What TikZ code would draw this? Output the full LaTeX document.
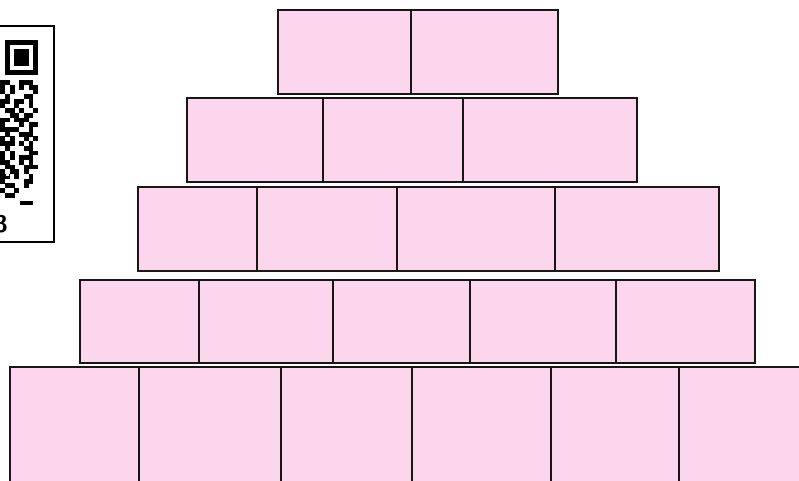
\documentclass[tikz,border=0pt]{standalone}
\usepackage{tikz}

\definecolor{brickpink}{HTML}{FBD6EC}
\definecolor{brickline}{HTML}{1A1618}

\begin{document}
\begin{tikzpicture}[
	x=1pt, y=-1pt,
	brick/.style={ draw=brickline, fill=brickpink, line width=2pt, inner sep=0pt, anchor=north west },
	qrcell/.style={ fill=black }
]
\clip (0,0) rectangle (799,480);

% row 1 (top)
\foreach \l/\r [count=\i] in {277/410, 410/557}
	\node at (\l,9) (rowa\i) [brick, minimum width={\r pt-\l pt}, minimum height=84pt] {};

% row 2
\foreach \l/\r [count=\i] in {186/322, 322/462, 462/636}
	\node at (\l,97) (rowb\i) [brick, minimum width={\r pt-\l pt}, minimum height=84pt] {};

% row 3
\foreach \l/\r [count=\i] in {137/256, 256/396, 396/554, 554/718}
	\node at (\l,186) (rowc\i) [brick, minimum width={\r pt-\l pt}, minimum height=84pt] {};

% row 4
\foreach \l/\r [count=\i] in {79/198, 198/332, 332/469, 469/615, 615/754}
	\node at (\l,279) (rowd\i) [brick, minimum width={\r pt-\l pt}, minimum height=83pt] {};

% row 5 (bottom, runs off the page)
\foreach \l/\r [count=\i] in {9/138, 138/280, 280/411, 411/550, 550/678, 678/830}
	\node at (\l,366) (rowe\i) [brick, minimum width={\r pt-\l pt}, minimum height=130pt] {};

% QR code, cut at the left edge
\node at (-10,25) (qr) [draw=black, fill=white, line width=2.2pt, inner sep=0pt, anchor=north west,
	minimum width=63pt, minimum height=216pt] {};
\fill (5,40) rectangle (38,75);
\fill[white] (9.7,44.7) rectangle (33.3,70.3);
\fill (14.4,49.4) rectangle (28.6,65.6);
\foreach \bits [count=\r from 0] in {
	{1,1,0,0,1,1,1,0},{1,0,1,0,1,0,1,1},{1,0,1,0,0,0,0,1},{0,1,0,0,0,1,1,0},
	{1,1,0,1,1,0,1,0},{1,0,0,1,0,0,1,0},{0,1,1,0,1,0,0,1},{0,0,1,1,0,1,1,0},
	{1,1,0,1,1,1,0,0},{1,0,0,0,1,0,1,1},{1,1,1,1,0,0,1,0},{0,1,0,0,1,1,1,0},
	{1,0,1,0,0,1,0,1},{1,1,1,0,1,0,1,0},{0,1,0,0,0,1,1,0},{1,0,1,0,0,0,1,1},
	{1,0,1,0,1,1,1,0},{1,1,0,0,1,0,1,0},{0,1,1,0,0,1,1,1},{1,0,1,1,0,1,0,0},
	{1,1,0,1,0,0,1,0},{1,0,0,0,0,1,1,0},{0,1,1,0,0,1,0,0},{1,0,0,1,0,0,0,0},
	{0,1,1,0,0,0,0,0}} {
	\foreach \b [count=\c from -1] in \bits {
		\ifnum\b=1 \fill[qrcell] (5+\c*4.7,80+\r*4.7) rectangle ++(4.8,4.8); \fi
	}
}
\fill[white] (6,171) rectangle (9,176);
\fill[qrcell] (20,201) rectangle (33,205);
\node at (8,232) (qrnum) [anchor=base east, inner sep=0pt, font=\fontsize{24}{24}\selectfont\sffamily\bfseries] {3};

\end{tikzpicture}
\end{document}
